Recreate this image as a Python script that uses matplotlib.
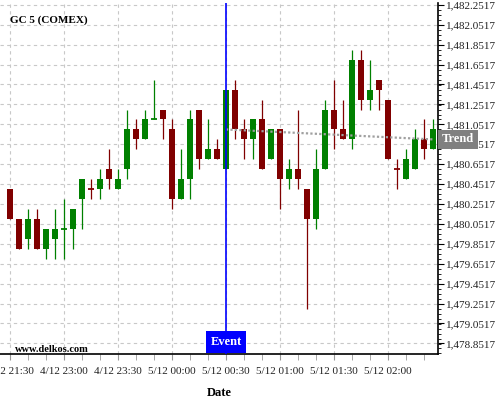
import numpy as np
import matplotlib.pyplot as plt
from matplotlib.ticker import FixedLocator, MultipleLocator, FuncFormatter

plt.rcParams["font.family"] = ["Liberation Serif", "DejaVu Serif"]

# -----------------------------
# Candle data (5 min bars, GC COMEX)
# -----------------------------
opens = [1480.4, 1480.1, 1479.9, 1480.1, 1479.8, 1479.9, 1480.0, 1480.0,
         1480.3, 1480.4, 1480.4, 1480.6, 1480.4, 1480.6, 1481.0, 1480.9,
         1481.1, 1481.2, 1481.0, 1480.3, 1480.5, 1481.2, 1480.7, 1480.8,
         1480.6, 1481.4, 1481.0, 1480.9, 1481.1, 1480.7, 1481.0, 1480.5,
         1480.6, 1480.4, 1480.1, 1480.6, 1481.2, 1481.0, 1480.9, 1481.7,
         1481.3, 1481.5, 1481.3, 1480.6, 1480.5, 1480.6, 1480.9, 1480.8]
highs = [1480.4, 1480.1, 1480.2, 1480.2, 1480.0, 1480.2, 1480.3, 1480.2,
         1480.5, 1480.5, 1480.6, 1480.8, 1480.6, 1481.2, 1481.1, 1481.2,
         1481.5, 1481.2, 1481.1, 1480.8, 1481.2, 1481.2, 1481.1, 1480.9,
         1481.4, 1481.5, 1481.1, 1481.1, 1481.3, 1481.0, 1481.0, 1480.7,
         1481.2, 1480.4, 1480.8, 1481.3, 1481.5, 1481.3, 1481.8, 1481.8,
         1481.7, 1481.5, 1481.3, 1480.7, 1480.8, 1481.0, 1481.1, 1481.1]
lows = [1480.1, 1479.8, 1479.8, 1479.8, 1479.7, 1479.7, 1479.7, 1479.8,
        1480.0, 1480.3, 1480.3, 1480.4, 1480.4, 1480.5, 1480.8, 1480.9,
        1481.1, 1480.9, 1480.2, 1480.3, 1480.3, 1480.6, 1480.7, 1480.7,
        1480.6, 1480.9, 1480.7, 1480.7, 1480.6, 1480.7, 1480.2, 1480.4,
        1480.4, 1479.2, 1480.0, 1480.6, 1480.8, 1480.9, 1480.8, 1481.2,
        1481.2, 1481.2, 1480.7, 1480.4, 1480.5, 1480.6, 1480.7, 1480.8]
closes = [1480.1, 1479.8, 1480.1, 1479.8, 1480.0, 1480.0, 1480.0, 1480.2,
          1480.5, 1480.4, 1480.5, 1480.5, 1480.5, 1481.0, 1480.9, 1481.1,
          1481.1, 1481.1, 1480.3, 1480.5, 1481.1, 1480.7, 1480.8, 1480.7,
          1481.4, 1481.0, 1480.9, 1481.1, 1480.6, 1481.0, 1480.5, 1480.6,
          1480.5, 1480.1, 1480.6, 1481.2, 1481.0, 1480.9, 1481.7, 1481.3,
          1481.4, 1481.4, 1480.7, 1480.6, 1480.7, 1480.9, 1480.8, 1481.0]
# colour of the flat (open == close) bars
doji_up = {6: True, 9: False, 16: True, 43: False}

tick_pos = [0, 6, 12, 18, 24, 30, 36, 42]
tick_labels = ["4/12 21:30", "4/12 23:00", "4/12 23:30", "5/12 00:00",
               "5/12 00:30", "5/12 01:00", "5/12 01:30", "5/12 02:00"]

event_idx = 24
trend_x = [24, 47]
trend_y = [1481.0, 1480.9]

UP = "#008000"
DOWN = "#800000"

# -----------------------------
# Plot
# -----------------------------
fig = plt.figure(figsize=(5, 4), dpi=100)
ax = fig.add_axes([0.0, 0.115, 0.876, 0.8775])

x = np.arange(len(opens))
o = np.array(opens)
c = np.array(closes)
colors = []
for i in x:
    if c[i] > o[i]:
        colors.append(UP)
    elif c[i] < o[i]:
        colors.append(DOWN)
    else:
        colors.append(UP if doji_up.get(i, True) else DOWN)

ax.vlines(x, lows, highs, colors=colors, linewidth=0.9, zorder=3)
ax.bar(x, np.abs(c - o), bottom=np.minimum(o, c), width=0.75,
       color=colors, linewidth=0, zorder=4)
flat = c == o
ax.hlines(o[flat], x[flat] - 0.38, x[flat] + 0.38,
          colors=[colors[i] for i in x[flat]], linewidth=1.3, zorder=4)

# trend line
ax.plot(trend_x, trend_y, color="#a0a0a0", linewidth=1.6,
        linestyle=(0, (1, 1)), zorder=5)
ax.annotate("Trend", xy=(1.0, trend_y[-1]), xycoords=("axes fraction", "data"),
            xytext=(3, 0), textcoords="offset points", ha="left", va="center",
            color="white", fontsize=9, fontweight="bold",
            bbox=dict(boxstyle="square,pad=0.3", fc="#808080", ec="none"),
            annotation_clip=False, zorder=10)

# event marker
ax.axvline(event_idx, color="#0000ff", linewidth=1.2, zorder=6)
ax.annotate("Event", xy=(event_idx, 0), xycoords=("data", "axes fraction"),
            xytext=(0, 4.5), textcoords="offset points", ha="center", va="bottom",
            color="white", fontsize=9, fontweight="bold",
            bbox=dict(boxstyle="square,pad=0.38", fc="#0000ff", ec="none"),
            annotation_clip=False, zorder=10)

ax.set_xlim(-1.11, 47.56)
ax.set_ylim(1478.7447, 1482.27)

# axes / ticks
ax.yaxis.tick_right()
yt = np.round(np.arange(1478.8517, 1482.26, 0.2), 4)
ax.yaxis.set_major_locator(FixedLocator(yt))
ax.yaxis.set_minor_locator(MultipleLocator(0.05))
ax.yaxis.set_major_formatter(FuncFormatter(lambda v, p: f"{v:,.4f}"))
ax.xaxis.set_major_locator(FixedLocator(tick_pos))
ax.xaxis.set_minor_locator(MultipleLocator(2))
ax.set_xticklabels(tick_labels)
ax.tick_params(axis="x", which="both", length=4, color="#999999",
               labelsize=8, pad=5, labelcolor="#222222")
ax.tick_params(axis="y", which="major", length=4, width=0.8,
               labelsize=8, pad=2, labelcolor="#222222")
ax.tick_params(axis="y", which="minor", length=2, width=0.6)

for s in ["left", "top"]:
    ax.spines[s].set_visible(False)
for s in ["right", "bottom"]:
    ax.spines[s].set_linewidth(1.2)

ax.grid(True, which="major", color="#c8c8c8", linestyle=(0, (3, 3)),
        linewidth=0.8, zorder=0)
ax.set_axisbelow(True)

ax.set_xlabel("Date", fontsize=9, fontweight="bold", labelpad=8)
ax.text(0.023, 0.95, "GC 5 (COMEX)", transform=ax.transAxes,
        fontsize=8, fontweight="bold", va="center", ha="left")
ax.text(0.034, 0.014, "www.delkos.com", transform=ax.transAxes,
        fontsize=7.5, fontweight="bold", va="center", ha="left")

fig.savefig("out.png", dpi=100)
